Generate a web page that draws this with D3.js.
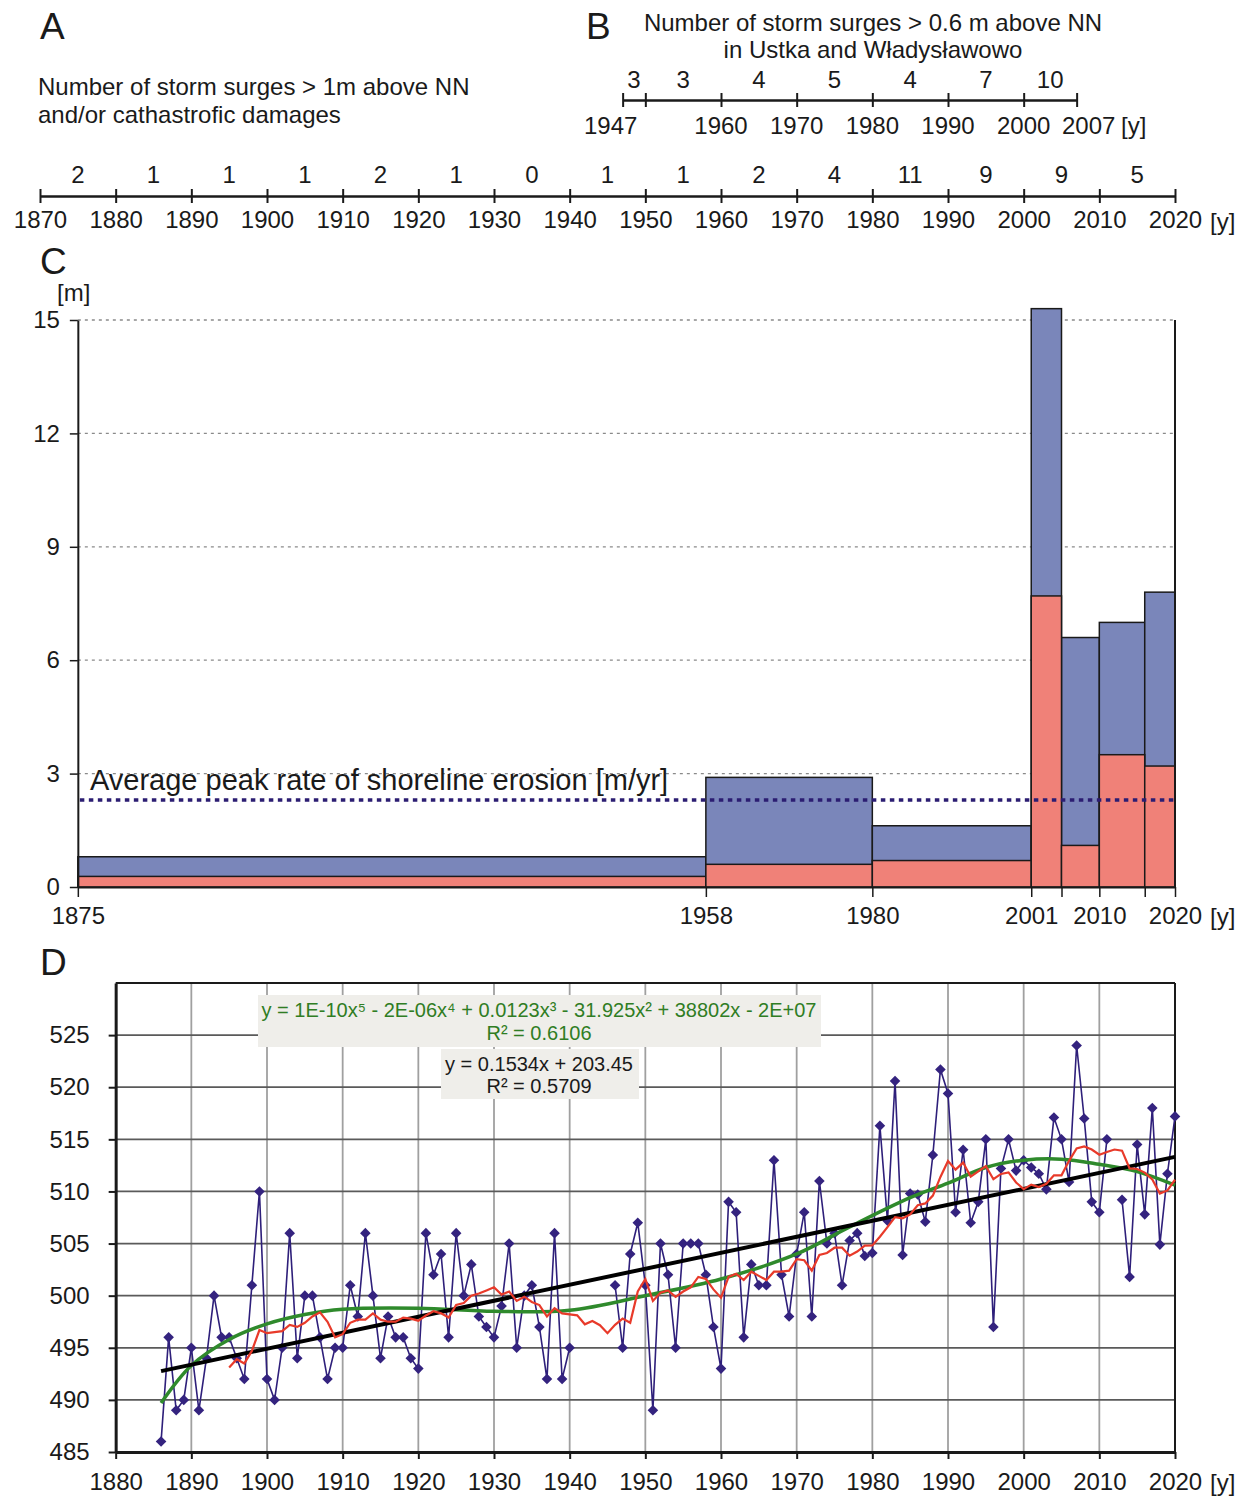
<!DOCTYPE html>
<html>
<head>
<meta charset="utf-8">
<script src="https://cdn.jsdelivr.net/npm/d3@7"></script>
<style>
  body { margin: 0; background: #fff; }
  svg text { font-family: "Liberation Sans", Arial, sans-serif; fill: #1a1a1a; }
  .axis path, .axis line { stroke: #1a1a1a; }
</style>
</head>
<body>
<div id="chart"></div>
<script>
// ---- panel A: storm surges > 1m per decade
var aTicks = [1870, 1880, 1890, 1900, 1910, 1920, 1930, 1940, 1950, 1960, 1970, 1980, 1990, 2000, 2010, 2020]
var aCounts = [2, 1, 1, 1, 2, 1, 0, 1, 1, 2, 4, 11, 9, 9, 5]

// ---- panel B: storm surges > 0.6 m, Ustka and Władysławowo
var bTicks = [1947, 1950, 1960, 1970, 1980, 1990, 2000, 2007]
var bCounts = [3, 3, 4, 5, 4, 7, 10]
var bLabels = [1947, 1960, 1970, 1980, 1990, 2000, 2007]

// ---- panel C: shoreline erosion per period [m]
var cStart = [1875, 1958, 1980, 2001, 2005, 2010, 2016]
var cEnd = [1958, 1980, 2001, 2005, 2010, 2016, 2020]
var cLower = [0.28, 0.6, 0.7, 7.7, 1.1, 3.5, 3.2]
var cTotal = [0.8, 2.9, 1.62, 15.3, 6.6, 7.0, 7.8]
var cYTicks = [0, 3, 6, 9, 12, 15]
var cXLabels = [1875, 1958, 1980, 2001, 2010, 2020]
var cAverage = 2.3

// ---- panel D: annual values 1886-2020 (null = no data)
var dFirstYear = 1886
var dValues = [
  486, 496, 489, 490, 495, 489, 494, 500, 496, 496,            // 1886-1895
  494, 492, 501, 510, 492, 490, 495, 506, 494, 500,            // 1896-1905
  500, 496, 492, 495, 495, 501, 498, 506, 500, 494,            // 1906-1915
  498, 496, 496, 494, 493, 506, 502, 504, 496, 506,            // 1916-1925
  500, 503, 498, 497, 496, 499, 505, 495, 500, 501,            // 1926-1935
  497, 492, 506, 492, 495, null, null, null, null, null,       // 1936-1945
  501, 495, 504, 507, 501, 489, 505, 502, 495, 505,            // 1946-1955
  505, 505, 502, 497, 493, 509, 508, 496, 503, 501,            // 1956-1965
  501, 513, 502, 498, 504, 508, 498, 511, 505, 506,            // 1966-1975
  501, 505.3, 506, 503.8, 504.1, 516.3, 507.2, 520.6, 503.9, 509.8, // 1976-1985
  509.7, 507.1, 513.5, 521.7, 519.4, 508, 514, 507, 509, 515,  // 1986-1995
  497, 512.2, 515, 512, 513, 512.3, 511.7, 510.2, 517.1, 515,  // 1996-2005
  510.9, 524, 517, 509, 508, 515, null, 509.2, 501.8, 514.5,   // 2006-2015
  507.8, 518, 504.9, 511.7, 517.2                              // 2016-2020
]
var maWindow = 10
var polyYears = [1886, 1890, 1895, 1900, 1905, 1910, 1920, 1930, 1940, 1950, 1960, 1970, 1977, 1985, 1990, 1995, 2000, 2005, 2010, 2015, 2020]
var polyValues = [489.7, 493.3, 495.8, 497.3, 498.2, 498.7, 498.8, 498.5, 498.6, 500.0, 501.6, 504.0, 506.6, 509.4, 510.8, 512.3, 513.0, 513.1, 512.6, 511.9, 510.6]
var linSlope = 0.1534, linIntercept = 203.45
var dYTicks = [485, 490, 495, 500, 505, 510, 515, 520, 525]
var dXTicks = [1880, 1890, 1900, 1910, 1920, 1930, 1940, 1950, 1960, 1970, 1980, 1990, 2000, 2010, 2020]

var width = 1247, height = 1496

var svg = d3.select("#chart").append("svg")
  .attr("width", width)
  .attr("height", height)

// one time axis shared by all panels
var x = d3.scaleLinear().domain([1870, 2020]).range([40, 1175])

function letter(t, px, py) {
  svg.append("text").attr("x", px).attr("y", py)
    .attr("font-size", 37).text(t)
}

// ================= A =================
letter("A", 40, 39)
svg.append("text").attr("x", 38).attr("y", 95).attr("font-size", 24)
  .text("Number of storm surges > 1m above NN")
svg.append("text").attr("x", 38).attr("y", 123).attr("font-size", 24)
  .text("and/or cathastrofic damages")

var aY = 196
svg.append("g").attr("class", "axis a-axis")
  .attr("transform", "translate(0," + aY + ")")
  .call(d3.axisTop(x).tickValues(aTicks).tickSize(7).tickSizeOuter(0).tickFormat(""))
svg.append("g").attr("class", "axis a-axis")
  .attr("transform", "translate(0," + aY + ")")
  .call(d3.axisBottom(x).tickValues(aTicks).tickSize(7).tickSizeOuter(0).tickPadding(8).tickFormat(d3.format("d")))
svg.selectAll(".axis path").attr("stroke-width", 2.2)
svg.selectAll(".axis line").attr("stroke-width", 2)
svg.selectAll(".a-axis text").attr("font-size", 24)

svg.selectAll(".a-count")
  .data(aCounts)
  .enter().append("text")
  .attr("class", "a-count")
  .attr("x", function(d, i) { return x((aTicks[i] + aTicks[i + 1]) / 2) })
  .attr("y", 183)
  .attr("text-anchor", "middle")
  .attr("font-size", 24)
  .text(function(d) { return d })
svg.append("text").attr("x", 1210).attr("y", 230).attr("font-size", 24).text("[y]")

// ================= B =================
letter("B", 586, 39)
svg.append("text").attr("x", 873).attr("y", 31).attr("font-size", 24)
  .attr("text-anchor", "middle").text("Number of storm surges > 0.6 m above NN")
svg.append("text").attr("x", 873).attr("y", 58).attr("font-size", 24)
  .attr("text-anchor", "middle").text("in Ustka and Władysławowo")

var bScale = x.copy().domain([1947, 2007]).range([x(1947), x(2007)])
var bY = 100
svg.append("g").attr("class", "axis b-axis")
  .attr("transform", "translate(0," + bY + ")")
  .call(d3.axisTop(bScale).tickValues(bTicks).tickSize(7).tickSizeOuter(0).tickFormat(""))
svg.append("g").attr("class", "axis b-axis")
  .attr("transform", "translate(0," + bY + ")")
  .call(d3.axisBottom(bScale).tickValues(bTicks).tickSize(7).tickSizeOuter(0).tickFormat(""))
svg.selectAll(".b-axis path").attr("stroke-width", 2.2)
svg.selectAll(".b-axis line").attr("stroke-width", 2)

svg.selectAll(".b-count")
  .data(bCounts)
  .enter().append("text")
  .attr("class", "b-count")
  .attr("x", function(d, i) { return bScale((bTicks[i] + bTicks[i + 1]) / 2) })
  .attr("y", 88)
  .attr("text-anchor", "middle")
  .attr("font-size", 24)
  .text(function(d) { return d })

svg.selectAll(".b-label")
  .data(bLabels)
  .enter().append("text")
  .attr("class", "b-label")
  .attr("x", function(d) {
    if (d === 1947) return bScale(d) - 12
    if (d === 2007) return bScale(d) + 12
    return bScale(d)
  })
  .attr("y", 134)
  .attr("text-anchor", "middle")
  .attr("font-size", 24)
  .text(function(d) { return d })
svg.append("text").attr("x", 1121).attr("y", 134).attr("font-size", 24).text("[y]")

// ================= C =================
letter("C", 40, 274)
svg.append("text").attr("x", 57).attr("y", 301).attr("font-size", 24).text("[m]")

var yC = d3.scaleLinear().domain([0, 15]).range([887, 320])

svg.selectAll(".c-grid")
  .data(cYTicks.slice(1))
  .enter().append("line")
  .attr("class", "c-grid")
  .attr("x1", x(1875)).attr("x2", x(2020))
  .attr("y1", function(d) { return yC(d) })
  .attr("y2", function(d) { return yC(d) })
  .attr("stroke", "#8a8a8a")
  .attr("stroke-width", 1.3)
  .attr("stroke-dasharray", "3,4")

// upper (blue) part drawn as full bar, lower (red) on top
svg.selectAll(".c-total")
  .data(cTotal)
  .enter().append("rect")
  .attr("class", "c-total")
  .attr("x", function(d, i) { return x(cStart[i]) })
  .attr("width", function(d, i) { return x(cEnd[i]) - x(cStart[i]) })
  .attr("y", function(d) { return yC(d) })
  .attr("height", function(d) { return yC(0) - yC(d) })
  .attr("fill", "#7a86ba")
  .attr("stroke", "#1a1a1a")
  .attr("stroke-width", 1.5)

svg.selectAll(".c-lower")
  .data(cLower)
  .enter().append("rect")
  .attr("class", "c-lower")
  .attr("x", function(d, i) { return x(cStart[i]) })
  .attr("width", function(d, i) { return x(cEnd[i]) - x(cStart[i]) })
  .attr("y", function(d) { return yC(d) })
  .attr("height", function(d) { return yC(0) - yC(d) })
  .attr("fill", "#f08178")
  .attr("stroke", "#1a1a1a")
  .attr("stroke-width", 1.5)

svg.append("line")
  .attr("x1", x(1875) + 2).attr("x2", x(2020))
  .attr("y1", yC(cAverage)).attr("y2", yC(cAverage))
  .attr("stroke", "#2b1d72")
  .attr("stroke-width", 3.5)
  .attr("stroke-dasharray", "4.5,4.5")
svg.append("text").attr("x", 90).attr("y", 790).attr("font-size", 29)
  .text("Average peak rate of shoreline erosion [m/yr]")

svg.append("g").attr("class", "axis c-axis")
  .attr("transform", "translate(" + x(1875) + ",0)")
  .call(d3.axisLeft(yC).tickValues(cYTicks).tickSize(8).tickPadding(10).tickSizeOuter(0))
svg.append("g").attr("class", "axis c-axis")
  .attr("transform", "translate(0," + yC(0) + ")")
  .call(d3.axisBottom(x.copy().domain([1875, 2020]).range([x(1875), x(2020)]))
    .tickValues(cStart.concat([2020])).tickSize(10).tickPadding(10).tickSizeOuter(0)
    .tickFormat(function(d) { return cXLabels.indexOf(d) >= 0 ? d : "" }))
svg.selectAll(".c-axis path").attr("stroke-width", 2)
svg.selectAll(".c-axis line").attr("stroke-width", 1.5)
svg.selectAll(".c-axis text").attr("font-size", 24)
svg.append("line")
  .attr("x1", x(2020)).attr("x2", x(2020))
  .attr("y1", yC(15)).attr("y2", yC(0))
  .attr("stroke", "#1a1a1a").attr("stroke-width", 2)
svg.append("text").attr("x", 1210).attr("y", 925).attr("font-size", 24).text("[y]")

// ================= D =================
letter("D", 40, 975)
var yD = d3.scaleLinear().domain([485, 530]).range([1452, 983])
var xD0 = x(1880), xD1 = x(2020)

svg.selectAll(".d-vgrid")
  .data(dXTicks.slice(1, -1))
  .enter().append("line")
  .attr("class", "d-vgrid")
  .attr("x1", function(d) { return x(d) }).attr("x2", function(d) { return x(d) })
  .attr("y1", yD(530)).attr("y2", yD(485))
  .attr("stroke", "#a0a0a0").attr("stroke-width", 1.8)
svg.selectAll(".d-hgrid")
  .data(dYTicks.slice(1).concat([530]))
  .enter().append("line")
  .attr("class", "d-hgrid")
  .attr("x1", xD0).attr("x2", xD1)
  .attr("y1", function(d) { return yD(d) }).attr("y2", function(d) { return yD(d) })
  .attr("stroke", function(d) { return d === 530 ? "#1a1a1a" : "#5a5a5a" })
  .attr("stroke-width", 1.8)
svg.append("line")
  .attr("x1", xD1).attr("x2", xD1).attr("y1", yD(530)).attr("y2", yD(485))
  .attr("stroke", "#1a1a1a").attr("stroke-width", 2)

var dPoints = dValues.map(function(v, i) { return { year: dFirstYear + i, value: v } })

// 10-year moving average of the series (as the chart's trendline)
var maPoints = dPoints.slice(maWindow - 1).map(function(p) {
  var win = dPoints.filter(function(q) { return q.year > p.year - maWindow && q.year <= p.year && q.value !== null })
  return { year: p.year, value: d3.mean(win, function(q) { return q.value }) }
})

var lineD = d3.line()
  .defined(function(d) { return d.value !== null })
  .x(function(d) { return x(d.year) })
  .y(function(d) { return yD(d.value) })

svg.append("path")
  .datum(dPoints)
  .attr("d", lineD)
  .attr("fill", "none")
  .attr("stroke", "#2e1f7a")
  .attr("stroke-width", 1.6)

// diamonds: square marker turned 45 degrees
svg.selectAll(".d-dot")
  .data(dPoints.filter(function(d) { return d.value !== null }))
  .enter().append("path")
  .attr("class", "d-dot")
  .attr("d", d3.symbol().type(d3.symbolSquare).size(56))
  .attr("transform", function(d) { return "translate(" + x(d.year) + "," + yD(d.value) + ") rotate(45)" })
  .attr("fill", "#34237f")

svg.append("path")
  .datum(polyYears.map(function(yr, i) { return { year: yr, value: polyValues[i] } }))
  .attr("d", lineD.curve(d3.curveCatmullRom))
  .attr("fill", "none")
  .attr("stroke", "#2f8a2c")
  .attr("stroke-width", 3.5)
lineD.curve(d3.curveLinear)

svg.append("path")
  .datum([dFirstYear, 2020].map(function(yr) { return { year: yr, value: linSlope * yr + linIntercept } }))
  .attr("d", lineD)
  .attr("fill", "none")
  .attr("stroke", "#000")
  .attr("stroke-width", 4)

svg.append("path")
  .datum(maPoints)
  .attr("d", lineD)
  .attr("fill", "none")
  .attr("stroke", "#e83a2a")
  .attr("stroke-width", 2.2)

// equation boxes
svg.append("rect").attr("x", 258).attr("y", 995).attr("width", 563).attr("height", 52).attr("fill", "#efeeea")
svg.append("rect").attr("x", 441).attr("y", 1049).attr("width", 198).attr("height", 50).attr("fill", "#efeeea")
svg.append("text").attr("x", 539).attr("y", 1017).attr("font-size", 20).attr("text-anchor", "middle")
  .style("fill", "#2f7d24")
  .text("y = 1E-10x\u2075 - 2E-06x\u2074 + 0.0123x\u00b3 - 31.925x\u00b2 + 38802x - 2E+07")
svg.append("text").attr("x", 539).attr("y", 1040).attr("font-size", 20).attr("text-anchor", "middle")
  .style("fill", "#2f7d24").text("R\u00b2 = 0.6106")
svg.append("text").attr("x", 539).attr("y", 1071).attr("font-size", 20).attr("text-anchor", "middle")
  .text("y = 0.1534x + 203.45")
svg.append("text").attr("x", 539).attr("y", 1093).attr("font-size", 20).attr("text-anchor", "middle")
  .text("R\u00b2 = 0.5709")

svg.append("g").attr("class", "axis d-axis")
  .attr("transform", "translate(" + xD0 + ",0)")
  .call(d3.axisLeft(yD).tickValues(dYTicks).tickSize(7).tickPadding(19).tickSizeOuter(0))
svg.append("g").attr("class", "axis d-axis")
  .attr("transform", "translate(0," + yD(485) + ")")
  .call(d3.axisBottom(x.copy().domain([1880, 2020]).range([xD0, xD1]))
    .tickValues(dXTicks).tickSize(7).tickPadding(14).tickSizeOuter(0).tickFormat(d3.format("d")))
svg.selectAll(".d-axis path").attr("stroke-width", 3)
svg.selectAll(".d-axis line").attr("stroke-width", 2)
svg.selectAll(".d-axis text").attr("font-size", 24)
svg.selectAll(".axis text").style("fill", "#1a1a1a")
svg.append("text").attr("x", 1210).attr("y", 1491).attr("font-size", 24).text("[y]")
</script>
</body>
</html>
